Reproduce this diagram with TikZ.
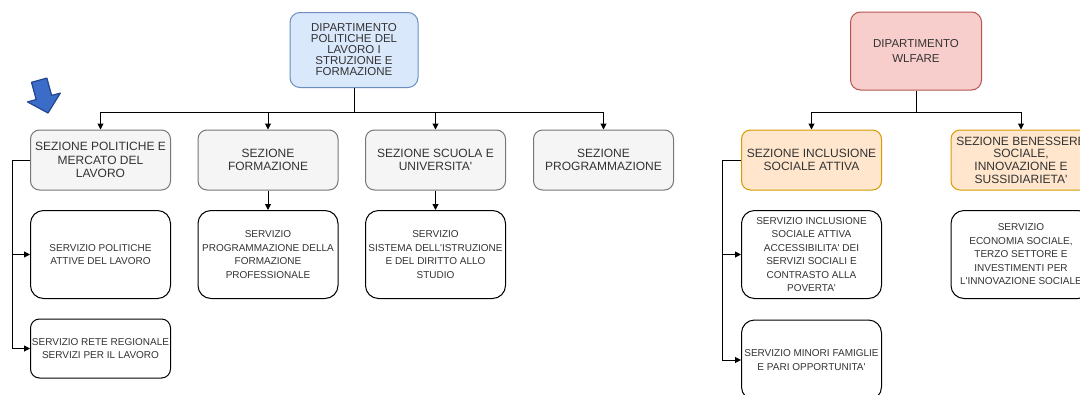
\documentclass[tikz,border=0pt]{standalone}
\usepackage{fontspec}
\setmainfont{Liberation Sans}
\usetikzlibrary{arrows.meta}
\definecolor{bluefill}{HTML}{DAE8FC}
\definecolor{blueline}{HTML}{6C8EBF}
\definecolor{redfill}{HTML}{F8CECC}
\definecolor{redline}{HTML}{B85450}
\definecolor{secfill}{HTML}{F5F5F5}
\definecolor{secline}{HTML}{777777}
\definecolor{orafill}{HTML}{FFE6CC}
\definecolor{oraline}{HTML}{D79B00}
\definecolor{txtgray}{HTML}{333333}
\definecolor{arrowblue}{HTML}{3A6CC8}
\definecolor{arrowline}{HTML}{23458F}
\newcommand{\apo}{\textquotesingle}
\begin{document}
\begin{tikzpicture}[x=1pt,y=-1pt,
  box/.style={draw, rounded corners=10pt, align=center, text=txtgray, line width=1pt, inner xsep=1pt, inner ysep=2pt},
  dept/.style={box, minimum width=128pt, minimum height=75pt, font=\fontsize{11.5}{11}\selectfont},
  sezione/.style={box, fill=secfill, draw=secline, minimum width=140pt, minimum height=60pt, rounded corners=9pt, font=\fontsize{12}{13.3}\selectfont},
  sezarancio/.style={sezione, fill=orafill, draw=oraline},
  servizio/.style={box, draw=black, fill=white, rounded corners=13pt, minimum width=140pt, minimum height=88pt, font=\fontsize{10}{13.5}\selectfont},
  conn/.style={line width=1pt, -{Triangle[length=6pt,width=6pt]}},
  ]
\useasboundingbox (0,0) rectangle (1080,394);
\clip (0,0) rectangle (1080,394);
\fill[white] (0,0) rectangle (1080,394);

% dipartimenti
\node[dept, fill=bluefill, draw=blueline] (dipLav) at (354,50) {DIPARTIMENTO\\POLITICHE DEL\\LAVORO I\\STRUZIONE E\\FORMAZIONE};
\node[dept, fill=redfill, draw=redline, minimum width=131pt, minimum height=78pt, font=\fontsize{11.5}{15}\selectfont] (dipWel) at (916,51) {DIPARTIMENTO\\WLFARE};

% sezioni
\node[sezione] (secPol) at (100.5,160) {SEZIONE POLITICHE E\\MERCATO DEL\\LAVORO};
\node[sezione] (secFor) at (268,160) {SEZIONE\\FORMAZIONE};
\node[sezione] (secScu) at (435.5,160) {SEZIONE SCUOLA E\\UNIVERSITA\apo};
\node[sezione] (secPro) at (603.5,160) {SEZIONE\\PROGRAMMAZIONE};
\node[sezarancio] (secInc) at (811.5,160) {SEZIONE INCLUSIONE\\SOCIALE ATTIVA};
\node[sezarancio, font=\fontsize{12}{12.7}\selectfont] (secBen) at (1021,160) {SEZIONE BENESSERE\\SOCIALE,\\INNOVAZIONE E\\SUSSIDIARIETA\apo};

% servizi
\node[servizio] (serPol) at (100.5,254.5) {SERVIZIO POLITICHE\\ATTIVE DEL LAVORO};
\node[servizio, minimum height=59pt, rounded corners=9pt] (serRet) at (100.5,348.5) {SERVIZIO RETE REGIONALE\\SERVIZI PER IL LAVORO};
\node[servizio] (serFor) at (268,254.5) {SERVIZIO\\PROGRAMMAZIONE DELLA\\FORMAZIONE\\PROFESSIONALE};
\node[servizio] (serIst) at (435.5,254.5) {SERVIZIO\\SISTEMA DELL\apo ISTRUZIONE\\E DEL DIRITTO ALLO\\STUDIO};
\node[servizio] (serInc) at (811.5,254.5) {SERVIZIO INCLUSIONE\\SOCIALE ATTIVA\\ACCESSIBILITA\apo{} DEI\\SERVIZI SOCIALI E\\CONTRASTO ALLA\\POVERTA\apo};
\node[servizio, minimum height=80pt] (serMin) at (811.5,360) {SERVIZIO MINORI FAMIGLIE\\E PARI OPPORTUNITA\apo};
\node[servizio] (serEco) at (1021,254.5) {SERVIZIO\\ECONOMIA SOCIALE,\\TERZO SETTORE E\\INVESTIMENTI PER\\L\apo INNOVAZIONE SOCIALE};

% collegamenti
\coordinate (busLav) at (354,112);
\coordinate (busWel) at (916,112);
\coordinate (spineLav) at (12,0);
\coordinate (spineWel) at (722,0);
\draw[line width=1pt] (dipLav.south) -- (busLav);
\draw[line width=1pt] (dipWel.south) -- (busWel);
\foreach \s in {secPol,secFor,secScu,secPro}
  \draw[conn] (busLav) -| (\s.north);
\foreach \s in {secInc,secBen}
  \draw[conn] (busWel) -| (\s.north);
\draw[conn] (secFor) -- (serFor);
\draw[conn] (secScu) -- (serIst);
\foreach \s in {serPol,serRet}
  \draw[conn] (secPol.west) -- (secPol.west -| spineLav) |- (\s.west);
\foreach \s in {serInc,serMin}
  \draw[conn] (secInc.west) -- (secInc.west -| spineWel) |- (\s.west);

% freccia blu
\filldraw[fill=arrowblue, draw=arrowline, line width=1.2pt, line join=round]
  (31.5,82.3) -- (36.2,99.6) -- (27.5,101.9) -- (48,113) -- (60.3,93.1) -- (51.6,95.4) -- (46.9,78.1) -- cycle;
\end{tikzpicture}
\end{document}
